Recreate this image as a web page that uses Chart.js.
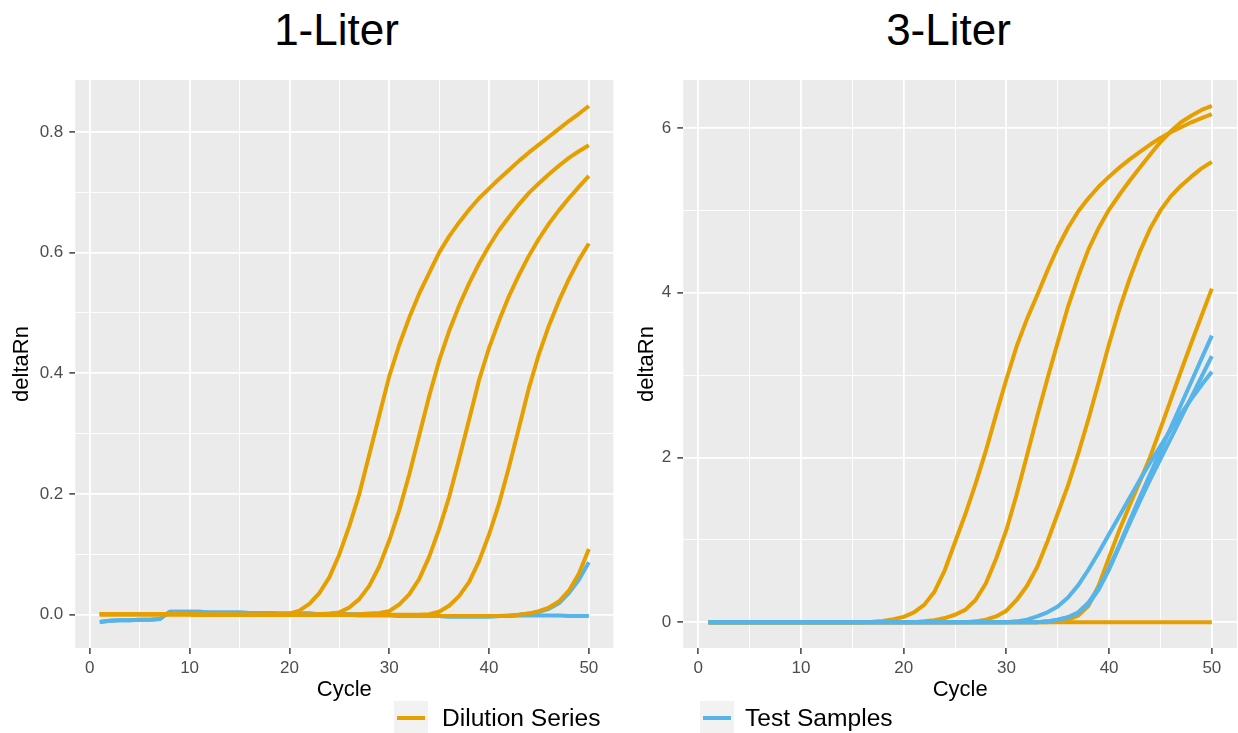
<!DOCTYPE html>
<html>
<head>
<meta charset="utf-8">
<title>deltaRn by cycle</title>
<script src="https://cdn.jsdelivr.net/npm/chart.js@4.4.1/dist/chart.umd.min.js"></script>
<style>
    body { margin: 0; background: #ffffff; }
    #fig { position: relative; width: 1238px; height: 733px; overflow: hidden; font-family: 'Liberation Sans', Arial, Helvetica, sans-serif; }
    canvas { position: absolute; top: 0; }
    #chart1L { left: 0; }
    #chart3L { left: 619px; }
    .panel-title { position: absolute; top: 8px; width: 300px; text-align: center; font-size: 44px; line-height: 44px; color: #000000; }
    .key { position: absolute; top: 701px; width: 34px; height: 34px; background: #F2F2F2; }
    .key span { position: absolute; left: 3px; right: 3px; top: 15px; height: 4px; }
    .key-label { position: absolute; top: 704px; font-size: 24.6px; line-height: 28px; color: #000000; white-space: nowrap; }
</style>
</head>
<body>
<div id="fig">
    <div class="panel-title" style="left: 186.5px;">1-Liter</div>
    <div class="panel-title" style="left: 798.5px;">3-Liter</div>
    <canvas id="chart1L" width="619" height="733"></canvas>
    <canvas id="chart3L" width="619" height="733"></canvas>
    <div class="key" style="left: 394px;"><span style="background: #E69F00;"></span></div>
    <div class="key-label" style="left: 442px;">Dilution Series</div>
    <div class="key" style="left: 700px;"><span style="background: #56B4E9;"></span></div>
    <div class="key-label" style="left: 745px;">Test Samples</div>
</div>

<script>
// cycles and tick positions
const cycles = [1, 2, 3, 4, 5, 6, 7, 8, 9, 10, 11, 12, 13, 14, 15, 16, 17, 18, 19, 20,
    21, 22, 23, 24, 25, 26, 27, 28, 29, 30, 31, 32, 33, 34, 35, 36, 37, 38, 39, 40,
    41, 42, 43, 44, 45, 46, 47, 48, 49, 50];

const xMajor = [0, 10, 20, 30, 40, 50];
const xMinor = [5, 15, 25, 35, 45];
const y1LMajor = [0, 0.2, 0.4, 0.6, 0.8];
const y1LMinor = [0.1, 0.3, 0.5, 0.7];
const y3LMajor = [0, 2, 4, 6];
const y3LMinor = [1, 3, 5];

const DILUTION = '#E69F00';
const TEST = '#56B4E9';

// 1-Liter: dilution series
const dil1L_a = [0.001, 0.001, 0.001, 0.001, 0.001, 0.001, 0.001, 0.001, 0.001, 0.001,
    0.000, 0.000, 0.000, 0.000, 0.000, 0.000, 0.000, 0.001, 0.001, 0.002,
    0.007, 0.018, 0.036, 0.062, 0.100, 0.147, 0.200, 0.265, 0.330, 0.395,
    0.447, 0.492, 0.532, 0.566, 0.600, 0.627, 0.650, 0.671, 0.690, 0.706,
    0.722, 0.737, 0.752, 0.766, 0.779, 0.792, 0.805, 0.818, 0.830, 0.843];
const dil1L_b = [0.001, 0.001, 0.001, 0.001, 0.001, 0.001, 0.001, 0.001, 0.001, 0.001,
    0.000, 0.000, 0.000, 0.000, 0.000, 0.000, 0.000, 0.000, 0.000, 0.000,
    0.000, 0.000, 0.001, 0.002, 0.004, 0.012, 0.026, 0.048, 0.080, 0.123,
    0.173, 0.232, 0.297, 0.362, 0.421, 0.470, 0.512, 0.549, 0.582, 0.611,
    0.637, 0.659, 0.680, 0.699, 0.715, 0.730, 0.744, 0.757, 0.768, 0.778];
const dil1L_c = [0.001, 0.001, 0.001, 0.001, 0.001, 0.001, 0.001, 0.001, 0.001, 0.001,
    0.000, 0.000, 0.000, 0.000, 0.000, 0.000, 0.000, 0.000, 0.000, 0.000,
    0.000, 0.000, 0.000, 0.000, 0.000, 0.000, 0.001, 0.002, 0.003, 0.006,
    0.017, 0.034, 0.059, 0.096, 0.142, 0.195, 0.258, 0.323, 0.389, 0.442,
    0.487, 0.528, 0.563, 0.595, 0.623, 0.648, 0.670, 0.690, 0.709, 0.727];
const dil1L_d = [0.001, 0.001, 0.001, 0.001, 0.001, 0.001, 0.001, 0.001, 0.001, 0.001,
    0.000, 0.000, 0.000, 0.000, 0.000, 0.000, 0.000, 0.000, 0.000, 0.000,
    0.000, 0.000, 0.000, 0.000, 0.000, 0.000, 0.000, 0.000, 0.000, 0.000,
    0.000, 0.000, 0.000, 0.001, 0.005, 0.015, 0.031, 0.054, 0.089, 0.133,
    0.184, 0.245, 0.310, 0.376, 0.432, 0.479, 0.520, 0.556, 0.588, 0.615];
const dil1L_e = [0.001, 0.001, 0.001, 0.001, 0.001, 0.001, 0.001, 0.001, 0.001, 0.001,
    0.000, 0.000, 0.000, 0.000, 0.000, 0.000, 0.000, 0.000, 0.000, 0.000,
    0.000, 0.000, 0.000, 0.000, 0.000, 0.000, -0.001, -0.001, -0.001, -0.001,
    -0.002, -0.002, -0.002, -0.002, -0.002, -0.002, -0.002, -0.002, -0.002, -0.002,
    -0.002, -0.001, 0.000, 0.002, 0.006, 0.012, 0.022, 0.040, 0.068, 0.109];

// 1-Liter: test samples
const test1L_a = [-0.012, -0.010, -0.009, -0.009, -0.008, -0.008, -0.007, 0.005, 0.005, 0.005,
    0.005, 0.004, 0.004, 0.004, 0.004, 0.003, 0.003, 0.003, 0.002, 0.002,
    0.002, 0.002, 0.001, 0.001, 0.001, 0.001, 0.000, 0.000, 0.000, 0.000,
    -0.001, -0.001, -0.002, -0.002, -0.002, -0.003, -0.003, -0.003, -0.003, -0.003,
    -0.002, -0.002, -0.001, -0.001, -0.001, -0.001, -0.001, -0.002, -0.002, -0.002];
const test1L_b = [-0.012, -0.010, -0.009, -0.009, -0.008, -0.008, -0.007, 0.005, 0.005, 0.005,
    0.005, 0.004, 0.004, 0.004, 0.004, 0.003, 0.003, 0.003, 0.002, 0.002,
    0.002, 0.002, 0.001, 0.001, 0.001, 0.001, 0.000, 0.000, 0.000, 0.000,
    -0.001, -0.001, -0.002, -0.002, -0.002, -0.003, -0.003, -0.003, -0.003, -0.003,
    -0.002, -0.002, 0.000, 0.002, 0.005, 0.010, 0.019, 0.036, 0.058, 0.087];

// 3-Liter: dilution series
const dil3L_a = [0, 0, 0, 0, 0, 0, 0, 0, 0, 0,
    0, 0, 0, 0, 0, 0, 0.005, 0.015, 0.035, 0.065,
    0.12, 0.21, 0.37, 0.63, 0.97, 1.31, 1.68, 2.08, 2.52, 2.95,
    3.35, 3.68, 3.97, 4.27, 4.55, 4.79, 4.99, 5.15, 5.29, 5.41,
    5.52, 5.62, 5.71, 5.80, 5.88, 5.95, 6.01, 6.07, 6.12, 6.17];
const dil3L_b = [0, 0, 0, 0, 0, 0, 0, 0, 0, 0,
    0, 0, 0, 0, 0, 0, 0, 0, 0, 0,
    0, 0.01, 0.025, 0.05, 0.09, 0.15, 0.27, 0.47, 0.77, 1.12,
    1.55, 2.02, 2.50, 2.96, 3.40, 3.83, 4.20, 4.53, 4.79, 5.01,
    5.19, 5.36, 5.52, 5.68, 5.83, 5.96, 6.07, 6.15, 6.22, 6.27];
const dil3L_c = [0, 0, 0, 0, 0, 0, 0, 0, 0, 0,
    0, 0, 0, 0, 0, 0, 0, 0, 0, 0,
    0, 0, 0, 0, 0, 0, 0.01, 0.03, 0.07, 0.14,
    0.27, 0.44, 0.67, 0.98, 1.32, 1.66, 2.05, 2.47, 2.92, 3.38,
    3.80, 4.17, 4.50, 4.78, 5.00, 5.17, 5.30, 5.41, 5.51, 5.59];
const dil3L_d = [0, 0, 0, 0, 0, 0, 0, 0, 0, 0,
    0, 0, 0, 0, 0, 0, 0, 0, 0, 0,
    0, 0, 0, 0, 0, 0, 0, 0, 0, 0,
    0, 0, 0, 0, 0.01, 0.03, 0.08, 0.20, 0.45, 0.79,
    1.12, 1.42, 1.71, 2.01, 2.35, 2.70, 3.05, 3.39, 3.72, 4.05];
const dil3L_e = [0, 0, 0, 0, 0, 0, 0, 0, 0, 0,
    0, 0, 0, 0, 0, 0, 0, 0, 0, 0,
    0, 0, 0, 0, 0, 0, 0, 0, 0, 0,
    0, 0, 0, 0, 0, 0, 0, 0, 0, 0,
    0, 0, 0, 0, 0, 0, 0, 0, 0, 0];

// 3-Liter: test samples
const test3L_a = [0, 0, 0, 0, 0, 0, 0, 0, 0, 0,
    0, 0, 0, 0, 0, 0, 0, 0, 0, 0,
    0, 0, 0, 0, 0, 0, 0, 0, 0, 0,
    0.01, 0.03, 0.07, 0.12, 0.19, 0.30, 0.45, 0.64, 0.85, 1.07,
    1.29, 1.51, 1.73, 1.94, 2.14, 2.34, 2.53, 2.71, 2.88, 3.04];
const test3L_b = [0, 0, 0, 0, 0, 0, 0, 0, 0, 0,
    0, 0, 0, 0, 0, 0, 0, 0, 0, 0,
    0, 0, 0, 0, 0, 0, 0, 0, 0, 0,
    0, 0, 0, 0.01, 0.03, 0.06, 0.12, 0.24, 0.42, 0.66,
    0.94, 1.23, 1.52, 1.80, 2.08, 2.36, 2.64, 2.92, 3.20, 3.48];
const test3L_c = [0, 0, 0, 0, 0, 0, 0, 0, 0, 0,
    0, 0, 0, 0, 0, 0, 0, 0, 0, 0,
    0, 0, 0, 0, 0, 0, 0, 0, 0, 0,
    0, 0, 0, 0.01, 0.03, 0.06, 0.11, 0.22, 0.40, 0.64,
    0.92, 1.20, 1.47, 1.73, 1.98, 2.23, 2.48, 2.73, 2.98, 3.23];

Chart.defaults.font.family = "'Liberation Sans', Arial, Helvetica, sans-serif";

// grey panel background like ggplot
const panelBackground = {
    id: 'panelBackground',
    beforeDraw(chart) {
        const { ctx, chartArea } = chart;
        ctx.save();
        ctx.fillStyle = '#EBEBEB';
        ctx.fillRect(chartArea.left, chartArea.top, chartArea.right - chartArea.left, chartArea.bottom - chartArea.top);
        ctx.restore();
    }
};

function series(label, values, color) {
    return {
        label: label,
        data: values.map((v, i) => ({ x: cycles[i], y: v })),
        borderColor: color,
        backgroundColor: color,
        fill: false
    };
}

function axis(dir, major, minor, min, max, format, title, width) {
    return {
        type: 'linear',
        min: min,
        max: max,
        afterBuildTicks: scale => {
            scale.ticks = major.map(v => ({ value: v, minor: false }))
                .concat(minor.map(v => ({ value: v, minor: true })))
                .sort((a, b) => a.value - b.value);
        },
        afterFit: scale => {
            if (dir === 'x') scale.height = 58;
            else scale.width = width;
        },
        border: { display: false },
        grid: {
            color: '#FFFFFF',
            lineWidth: c => (c.tick && c.tick.minor ? 0.9 : 1.8),
            tickColor: c => (c.tick && c.tick.minor ? 'rgba(0,0,0,0)' : '#333333'),
            tickLength: 6,
            tickWidth: 1.4
        },
        ticks: {
            autoSkip: false,
            maxRotation: 0,
            padding: dir === 'x' ? 4 : 6,
            color: '#4D4D4D',
            font: { size: 17 },
            callback: (v, i, ts) => (ts[i].minor ? '' : format(v))
        },
        title: {
            display: true,
            text: title,
            color: '#000000',
            font: { size: 22 },
            padding: dir === 'x' ? { top: 0, bottom: 3 } : { top: 0, bottom: 0 }
        }
    };
}

function panelOptions(p) {
    return {
        responsive: false,
        animation: false,
        devicePixelRatio: 1,
        layout: { padding: { top: 80, left: p.padLeft, right: p.padRight, bottom: 27 } },
        plugins: { legend: { display: false }, tooltip: { enabled: false } },
        elements: {
            point: { radius: 0 },
            line: { tension: 0, borderWidth: 4, borderCapStyle: 'butt', borderJoinStyle: 'round' }
        },
        scales: {
            x: axis('x', xMajor, xMinor, -1.45, 52.45, v => String(v), 'Cycle'),
            y: axis('y', p.yMajor, p.yMinor, p.yMin, p.yMax, p.format, 'deltaRn', p.yWidth)
        }
    };
}

// 1-Liter panel (dilution series drawn on top)
new Chart(document.getElementById('chart1L'), {
    type: 'line',
    data: {
        datasets: [
            series('Dilution Series', dil1L_a, DILUTION),
            series('Dilution Series', dil1L_b, DILUTION),
            series('Dilution Series', dil1L_c, DILUTION),
            series('Dilution Series', dil1L_d, DILUTION),
            series('Dilution Series', dil1L_e, DILUTION),
            series('Test Samples', test1L_a, TEST),
            series('Test Samples', test1L_b, TEST)
        ]
    },
    options: panelOptions({
        padLeft: 9, padRight: 5.7, yWidth: 66.3,
        yMajor: y1LMajor, yMinor: y1LMinor, yMin: -0.055, yMax: 0.886,
        format: v => v.toFixed(1)
    }),
    plugins: [panelBackground]
});

// 3-Liter panel (test samples drawn on top)
new Chart(document.getElementById('chart3L'), {
    type: 'line',
    data: {
        datasets: [
            series('Test Samples', test3L_a, TEST),
            series('Test Samples', test3L_b, TEST),
            series('Test Samples', test3L_c, TEST),
            series('Dilution Series', dil3L_a, DILUTION),
            series('Dilution Series', dil3L_b, DILUTION),
            series('Dilution Series', dil3L_c, DILUTION),
            series('Dilution Series', dil3L_d, DILUTION),
            series('Dilution Series', dil3L_e, DILUTION)
        ]
    },
    options: panelOptions({
        padLeft: 14.8, padRight: 1, yWidth: 49.5,
        yMajor: y3LMajor, yMinor: y3LMinor, yMin: -0.3135, yMax: 6.5835,
        format: v => String(v)
    }),
    plugins: [panelBackground]
});
</script>
</body>
</html>
